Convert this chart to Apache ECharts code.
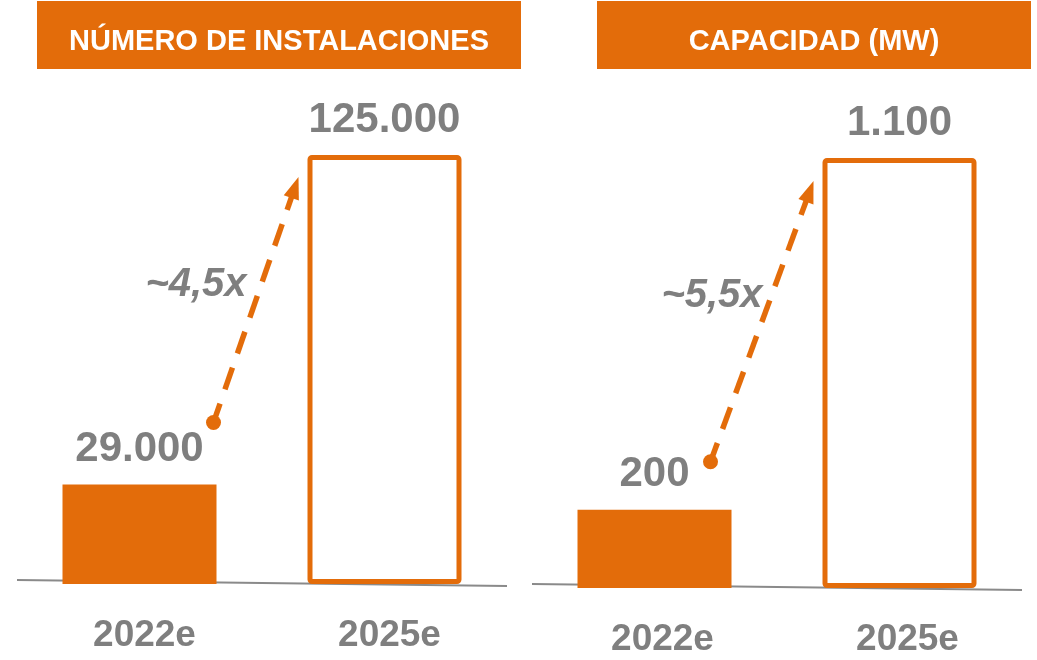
<!DOCTYPE html>
<html>
<head>
<meta charset="utf-8">
<script src="https://cdn.jsdelivr.net/npm/echarts@6/dist/echarts.min.js"></script>
<style>
  html, body { margin: 0; padding: 0; background: #ffffff; }
  #chart { width: 1037px; height: 660px; }
</style>
</head>
<body>
<div id="chart"></div>
<script>
// ---- data ----
const panelTitles = ['NÚMERO DE INSTALACIONES', 'CAPACIDAD (MW)'];
const years = ['2022e', '2025e'];
const installations = [29000, 125000];
const capacityMW = [200, 1100];
const growthLabels = ['~4,5x', '~5,5x'];

const panelValues = [installations, capacityMW];

// ---- styling / layout ----
const ORANGE = '#E36C0A';
const GREY = '#7F7F7F';
const FONT = '"Liberation Sans", Arial, Helvetica, sans-serif';

const grids = [
  { left: 17, top: 155, width: 490, height: 429, labelShift: 10 },
  { left: 532, top: 158, width: 490, height: 430, labelShift: 16 }
];
const headers = [
  { x: 37, y: 1, w: 484, h: 68 },
  { x: 597, y: 1, w: 434, h: 68 }
];
// arrow ends, offset in px from the bar-top points of the two bars
const arrowLayout = [
  { start: [74, -62], end: [-86, 22], text: [-60, -15] },
  { start: [56, -48], end: [-86, 23], text: [-50, -25] }
];
// dashed shaft: first dash from the dot, then dash / gap repeats
const DASH_FIRST = 20, DASH = 23, GAP = 15;

// thousands separator "."
function fmt(v) {
  return String(v).replace(/\B(?=(\d{3})+(?!\d))/g, '.');
}

const chart = echarts.init(document.getElementById('chart'), null, { renderer: 'canvas' });

const option = {
  animation: false,
  backgroundColor: '#ffffff',
  textStyle: { fontFamily: FONT },
  grid: grids.map(g => ({ left: g.left, top: g.top, width: g.width, height: g.height, containLabel: false })),
  xAxis: grids.map((g, i) => ({
    type: 'category',
    gridIndex: i,
    data: years,
    axisLine: { show: false },
    axisTick: { show: false },
    axisLabel: {
      margin: 33,
      padding: [0, 0, 0, g.labelShift],
      color: GREY,
      fontSize: 37,
      fontWeight: 'bold',
      fontFamily: FONT
    }
  })),
  yAxis: grids.map((g, i) => ({
    type: 'value',
    gridIndex: i,
    min: 0,
    max: panelValues[i][1],
    show: false,
    splitLine: { show: false }
  })),
  series: panelValues.map((vals, i) => ({
    type: 'bar',
    xAxisIndex: i,
    yAxisIndex: i,
    barWidth: 154,
    z: 3,
    data: vals.map((v, k) => k === 0
      ? { value: v, itemStyle: { color: ORANGE } }
      : { value: v, itemStyle: { color: '#ffffff', borderColor: ORANGE, borderWidth: 5, borderRadius: 2 } }),
    label: {
      show: true,
      position: 'top',
      distance: 14,
      color: GREY,
      fontSize: 42,
      fontWeight: 'bold',
      fontFamily: FONT,
      formatter: p => fmt(p.value)
    }
  }))
};

chart.setOption(option);

// ---- decorations: headers, baselines, growth arrows ----
const graphics = [];

headers.forEach((h, i) => {
  graphics.push({
    type: 'rect',
    shape: { x: h.x, y: h.y, width: h.w, height: h.h },
    style: { fill: ORANGE },
    z: 1
  });
  graphics.push({
    type: 'text',
    x: h.x + h.w / 2,
    y: h.y + h.h / 2 + 7,
    style: {
      text: panelTitles[i],
      fill: '#ffffff',
      font: 'bold 29px ' + FONT,
      align: 'center',
      verticalAlign: 'middle'
    },
    z: 2
  });
});

grids.forEach((g, i) => {
  const bottom = g.top + g.height;
  graphics.push({
    type: 'line',
    shape: { x1: g.left, y1: bottom - 4, x2: g.left + g.width, y2: bottom + 2 },
    style: { stroke: '#8a8a8a', lineWidth: 2 },
    z: 0
  });

  const vals = panelValues[i];
  const a = chart.convertToPixel({ gridIndex: i }, [0, vals[0]]);
  const b = chart.convertToPixel({ gridIndex: i }, [1, vals[1]]);
  const L = arrowLayout[i];
  const sx = a[0] + L.start[0], sy = a[1] + L.start[1];
  const ex = b[0] + L.end[0], ey = b[1] + L.end[1];
  const dx = ex - sx, dy = ey - sy;
  const len = Math.sqrt(dx * dx + dy * dy);
  const ux = dx / len, uy = dy / len;
  const headLen = 22, headHalf = 8;
  const shaftLen = len - headLen + 3;
  const bx = ex - ux * headLen, by = ey - uy * headLen;

  // dash segments along the shaft
  const dashes = [[0, DASH_FIRST]];
  for (let t = DASH_FIRST + GAP; t < shaftLen; t += DASH + GAP) {
    dashes.push([t, Math.min(t + DASH, shaftLen)]);
  }
  dashes.forEach(([t0, t1]) => {
    graphics.push({
      type: 'line',
      shape: { x1: sx + ux * t0, y1: sy + uy * t0, x2: sx + ux * t1, y2: sy + uy * t1 },
      style: { stroke: ORANGE, lineWidth: 5.5, lineCap: 'butt' },
      z: 20
    });
  });
  graphics.push({
    type: 'polygon',
    shape: { points: [[ex, ey], [bx - uy * headHalf, by + ux * headHalf], [bx + uy * headHalf, by - ux * headHalf]] },
    style: { fill: ORANGE },
    z: 20
  });
  graphics.push({
    type: 'circle',
    shape: { cx: sx, cy: sy, r: 7.5 },
    style: { fill: ORANGE },
    z: 20
  });
  graphics.push({
    type: 'text',
    x: (sx + ex) / 2 + L.text[0],
    y: (sy + ey) / 2 + L.text[1],
    style: {
      text: growthLabels[i],
      fill: GREY,
      font: 'italic bold 40px ' + FONT,
      align: 'center',
      verticalAlign: 'middle'
    },
    z: 19
  });
});

chart.setOption({ graphic: { elements: graphics } });
</script>
</body>
</html>
